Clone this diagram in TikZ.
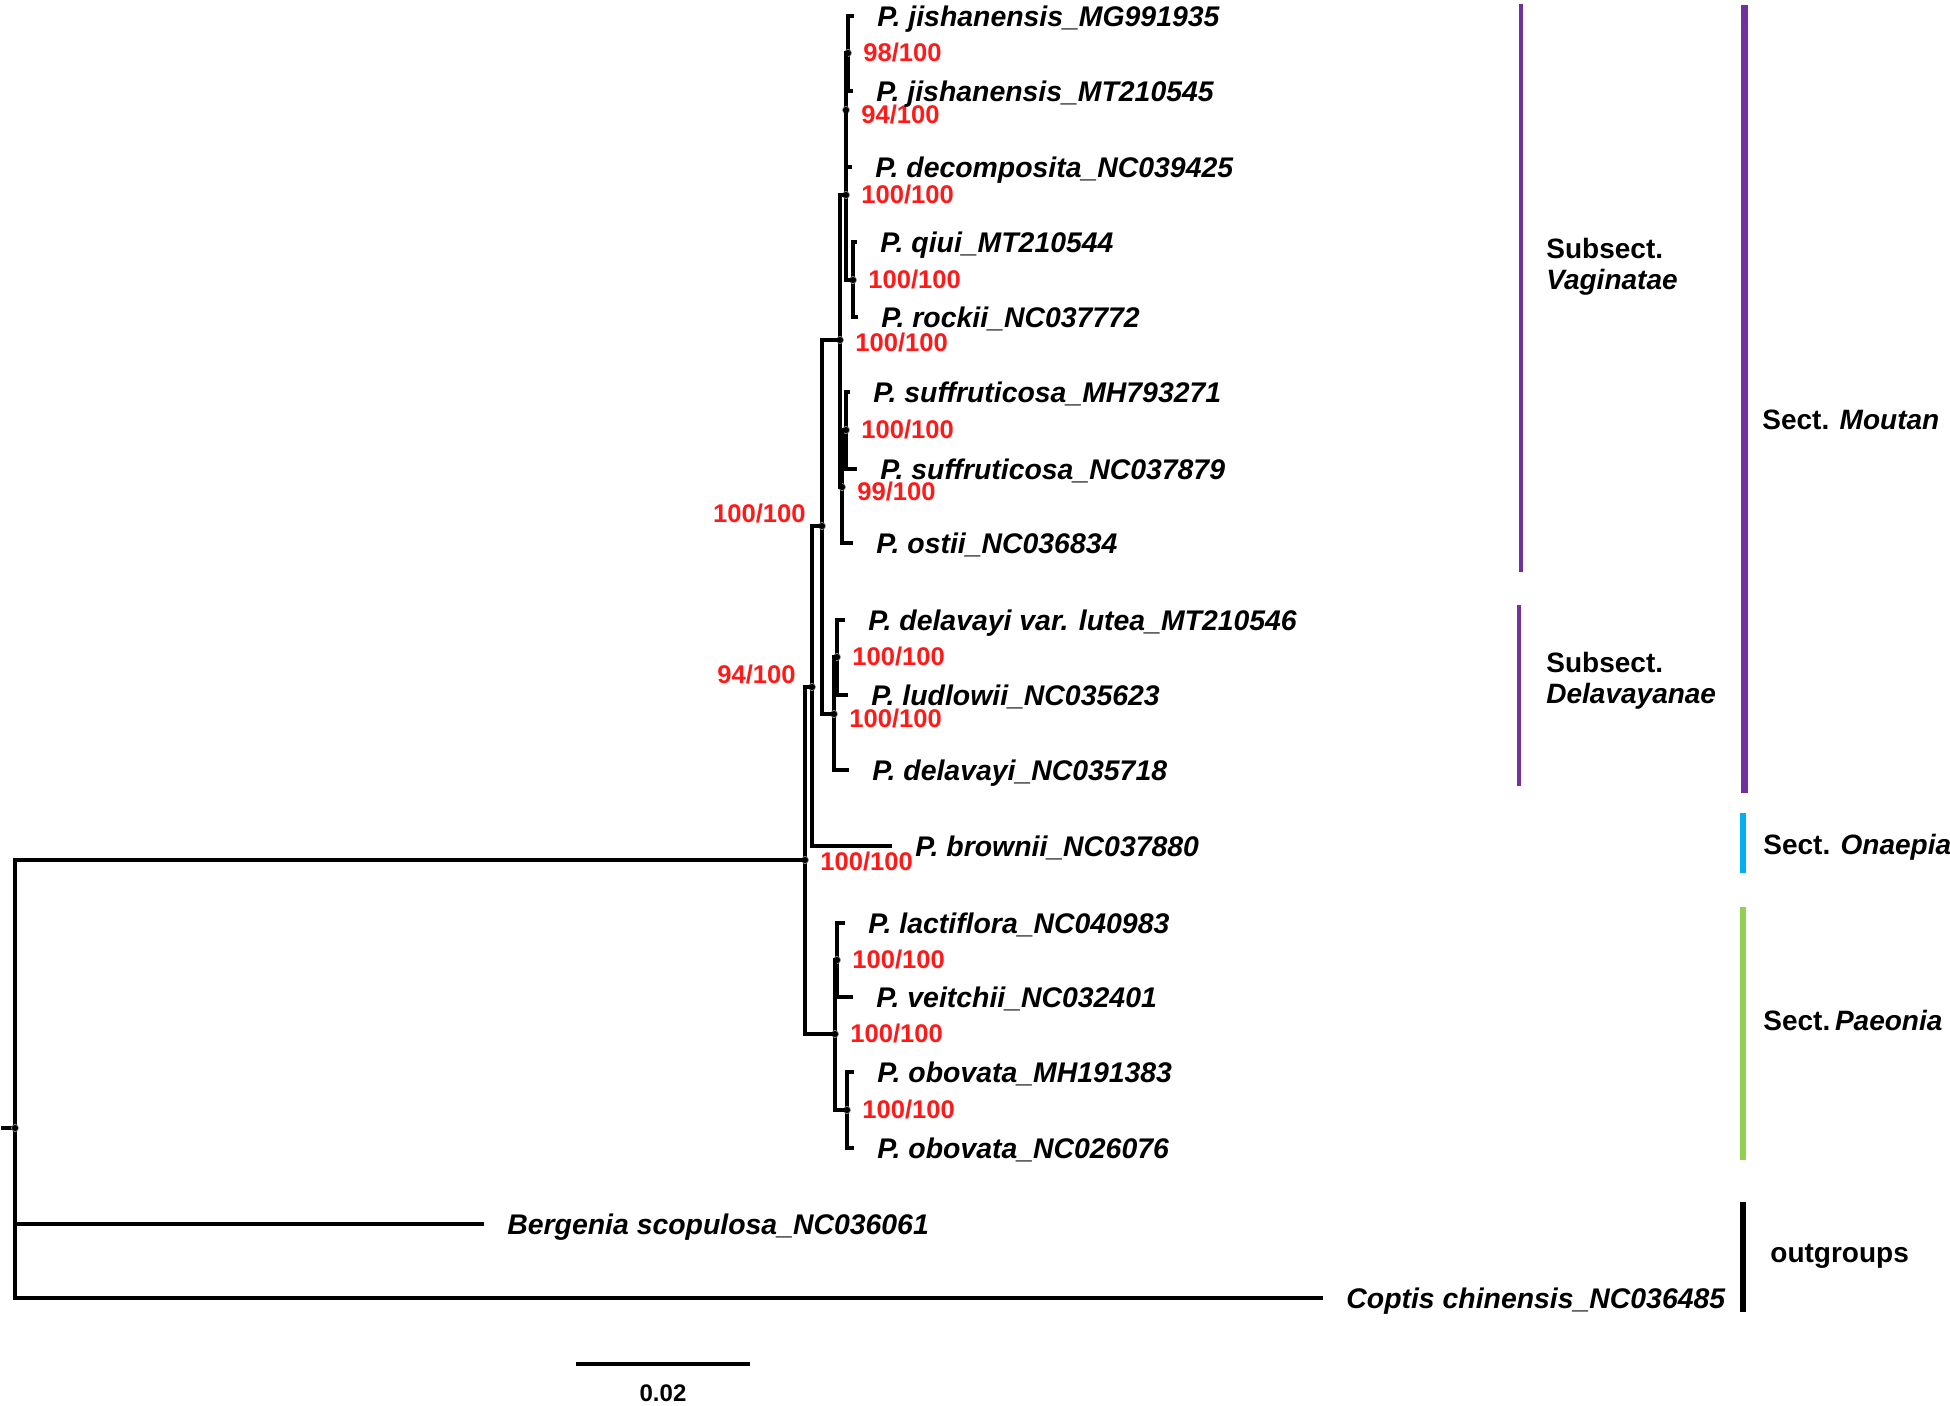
\documentclass[tikz,border=0pt]{standalone}
\usepackage{fontspec}
\setmainfont{Liberation Sans}
\usepackage{xcolor}
\usepackage{tikz}
\usetikzlibrary{calc,positioning}
\definecolor{sectpurple}{HTML}{7030A0}
\definecolor{sectblue}{HTML}{00B0F0}
\definecolor{sectgreen}{HTML}{92D050}
\definecolor{bsred}{HTML}{FF1A1A}
\tikzset{
  branch/.style={line width=2pt,line cap=rect},
  nodedot/.style={fill=black,draw=gray!70,line width=0.3pt},
  leaf/.style={anchor=base west,inner sep=0pt,text depth=0pt,xshift=12.5pt,yshift=-5pt,font=\fontsize{14.2pt}{16pt}\selectfont\bfseries\itshape},
  bsright/.style={anchor=west,inner sep=0pt,xshift=7.5pt,yshift=0.25pt,text=bsred,font=\fontsize{12.8pt}{14pt}\selectfont\bfseries},
  bslow/.style={bsright,yshift=-2.25pt},
  bsleft/.style={anchor=east,inner sep=0pt,xshift=-8pt,yshift=6.5pt,text=bsred,font=\fontsize{12.8pt}{14pt}\selectfont\bfseries},
  grouplabel/.style={anchor=base west,inner sep=0pt,align=left,font=\fontsize{14pt}{15.5pt}\selectfont\bfseries},
  groupbar/.style={line width=#1}
}

\begin{document}
\begin{tikzpicture}[x=0.5pt,y=-0.5pt]
  \useasboundingbox (0,0) rectangle (1950,1405);

  % tips
  \coordinate (tJishA) at (852,16);
  \coordinate (tJishB) at (851,91);
  \coordinate (tDecomp) at (850,167);
  \coordinate (tQiui) at (855,242);
  \coordinate (tRockii) at (856,317);
  \coordinate (tSuffA) at (848,392);
  \coordinate (tSuffB) at (855,469);
  \coordinate (tOstii) at (851,543);
  \coordinate (tLutea) at (843,620);
  \coordinate (tLudlow) at (846,695);
  \coordinate (tDelav) at (847,770);
  \coordinate (tBrownii) at (890,846);
  \coordinate (tLact) at (843,923);
  \coordinate (tVeitch) at (851,997);
  \coordinate (tOboA) at (852,1072);
  \coordinate (tOboB) at (852,1148);
  \coordinate (tBergenia) at (482,1224);
  \coordinate (tCoptis) at (1321,1298);

  % inner nodes
  \coordinate (nJish) at (848,53);
  \coordinate (nJishDec) at (846,110);
  \coordinate (nQR) at (853,280);
  \coordinate (nUpper) at (846,195);
  \coordinate (nSuff) at (846,430);
  \coordinate (nSuffOst) at (842,487);
  \coordinate (nVag) at (840,340);
  \coordinate (nDelA) at (837,657);
  \coordinate (nDel) at (834,714);
  \coordinate (nMoutan) at (822,526);
  \coordinate (n94) at (812,687);
  \coordinate (nPaeA) at (837,960);
  \coordinate (nObo) at (847,1110);
  \coordinate (nPae) at (835,1034);
  \coordinate (nGenus) at (805,860);
  \coordinate (nRoot) at (15,1128);
  \coordinate (rootStub) at (3,1128);

  % Vaginatae
  \draw[branch] (nJish) |- (tJishA) (nJish) |- (tJishB);
  \filldraw[nodedot] (nJish) circle (1.8pt);
  \node[bsright] (bJish) at (nJish) {98/100};

  \draw[branch] (nJishDec) |- (nJish) (nJishDec) |- (tDecomp);
  \filldraw[nodedot] (nJishDec) circle (1.8pt);
  \node[bslow] (bJishDec) at (nJishDec) {94/100};

  \draw[branch] (nQR) |- (tQiui) (nQR) |- (tRockii);
  \filldraw[nodedot] (nQR) circle (1.8pt);
  \node[bsright] (bQR) at (nQR) {100/100};

  \draw[branch] (nUpper) |- (nJishDec) (nUpper) |- (nQR);
  \filldraw[nodedot] (nUpper) circle (1.8pt);
  \node[bsright] (bUpper) at (nUpper) {100/100};

  \draw[branch] (nSuff) |- (tSuffA) (nSuff) |- (tSuffB);
  \filldraw[nodedot] (nSuff) circle (1.8pt);
  \node[bsright] (bSuff) at (nSuff) {100/100};

  \draw[branch] (nSuffOst) |- (nSuff) (nSuffOst) |- (tOstii);
  \filldraw[nodedot] (nSuffOst) circle (1.8pt);
  \node[bslow] (bSuffOst) at (nSuffOst) {99/100};

  \draw[branch] (nVag) |- (nUpper) (nVag) |- (nSuffOst);
  \filldraw[nodedot] (nVag) circle (1.8pt);
  \node[bsright,yshift=-1.25pt] (bVag) at (nVag) {100/100};

  % Delavayanae
  \draw[branch] (nDelA) |- (tLutea) (nDelA) |- (tLudlow);
  \filldraw[nodedot] (nDelA) circle (1.8pt);
  \node[bsright] (bDelA) at (nDelA) {100/100};

  \draw[branch] (nDel) |- (nDelA) (nDel) |- (tDelav);
  \filldraw[nodedot] (nDel) circle (1.8pt);
  \node[bslow] (bDel) at (nDel) {100/100};

  % Moutan and brownii
  \draw[branch] (nMoutan) |- (nVag) (nMoutan) |- (nDel);
  \filldraw[nodedot] (nMoutan) circle (1.8pt);
  \node[bsleft] (bMoutan) at (nMoutan) {100/100};

  \draw[branch] (n94) |- (nMoutan) (n94) |- (tBrownii);
  \filldraw[nodedot] (n94) circle (1.8pt);
  \node[bsleft] (b94) at (n94) {94/100};

  % Paeonia
  \draw[branch] (nPaeA) |- (tLact) (nPaeA) |- (tVeitch);
  \filldraw[nodedot] (nPaeA) circle (1.8pt);
  \node[bsright] (bPaeA) at (nPaeA) {100/100};

  \draw[branch] (nObo) |- (tOboA) (nObo) |- (tOboB);
  \filldraw[nodedot] (nObo) circle (1.8pt);
  \node[bsright] (bObo) at (nObo) {100/100};

  \draw[branch] (nPae) |- (nPaeA) (nPae) |- (nObo);
  \filldraw[nodedot] (nPae) circle (1.8pt);
  \node[bsright] (bPae) at (nPae) {100/100};

  % genus and root
  \draw[branch] (nGenus) |- (n94) (nGenus) |- (nPae);
  \filldraw[nodedot] (nGenus) circle (1.8pt);
  \node[bsright,yshift=-1pt] (bGenus) at (nGenus) {100/100};

  \draw[branch] (nRoot) |- (nGenus) (nRoot) |- (tBergenia) (nRoot) |- (tCoptis);
  \draw[branch] (rootStub) -- (nRoot);
  \filldraw[nodedot] (nRoot) circle (1.8pt);

  % taxon names
  \node[leaf] (lJishA) at (tJishA) {P. jishanensis\_MG991935};
  \node[leaf] (lJishB) at (tJishB) {P. jishanensis\_MT210545};
  \node[leaf] (lDecomp) at (tDecomp) {P. decomposita\_NC039425};
  \node[leaf] (lQiui) at (tQiui) {P. qiui\_MT210544};
  \node[leaf] (lRockii) at (tRockii) {P. rockii\_NC037772};
  \node[leaf] (lSuffA) at (tSuffA) {P. suffruticosa\_MH793271};
  \node[leaf] (lSuffB) at (tSuffB) {P. suffruticosa\_NC037879};
  \node[leaf] (lOstii) at (tOstii) {P. ostii\_NC036834};
  \node[leaf] (lLutea) at (tLutea) {P. delavayi var. lutea\_MT210546};
  \node[leaf] (lLudlow) at (tLudlow) {P. ludlowii\_NC035623};
  \node[leaf] (lDelav) at (tDelav) {P. delavayi\_NC035718};
  \node[leaf] (lBrownii) at (tBrownii) {P. brownii\_NC037880};
  \node[leaf] (lLact) at (tLact) {P. lactiflora\_NC040983};
  \node[leaf] (lVeitch) at (tVeitch) {P. veitchii\_NC032401};
  \node[leaf] (lOboA) at (tOboA) {P. obovata\_MH191383};
  \node[leaf] (lOboB) at (tOboB) {P. obovata\_NC026076};
  \node[leaf] (lBergenia) at (tBergenia) {Bergenia scopulosa\_NC036061};
  \node[leaf] (lCoptis) at (tCoptis) {Coptis chinensis\_NC036485};

  % group bars
  \draw[groupbar=2pt,sectpurple] (1521,4) -- (1521,572);
  \draw[groupbar=2pt,sectpurple] (1519,605) -- (1519,786);
  \draw[groupbar=3.5pt,sectpurple] (1744,5) -- (1744,793);
  \draw[groupbar=3pt,sectblue] (1743,813) -- (1743,873);
  \draw[groupbar=3pt,sectgreen] (1743,907) -- (1743,1160);
  \draw[groupbar=3pt,black] (1743,1202) -- (1743,1312);

  % group names
  \node[grouplabel] (gVag) at (1546,289) {Subsect.\\\textit{Vaginatae}};
  \node[grouplabel] (gDel) at (1546,703) {Subsect.\\\textit{Delavayanae}};
  \node[grouplabel] (gMoutan) at (1762,429) {Sect. \textit{Moutan}};
  \node[grouplabel] (gOnaepia) at (1763,854) {Sect. \textit{Onaepia}};
  \node[grouplabel] (gPaeonia) at (1763,1030) {Sect.\,\textit{Paeonia}};
  \node[grouplabel] (gOut) at (1770,1262) {outgroups};

  % scale bar
  \draw[line width=2pt] (576,1364) -- (750,1364);
  \node[anchor=base,inner sep=0pt,font=\fontsize{12pt}{14pt}\selectfont\bfseries] (scale) at (663,1401) {0.02};
\end{tikzpicture}
\end{document}
